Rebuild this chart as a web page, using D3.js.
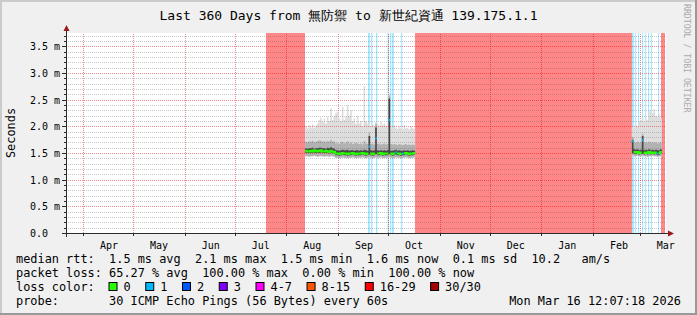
<!DOCTYPE html>
<html>
<head>
<meta charset="utf-8">
<script src="https://cdn.jsdelivr.net/npm/d3@7"></script>
<style>
body { margin: 0; background: #fff; }
svg text { font-family: "DejaVu Sans Mono", monospace; white-space: pre; }
</style>
</head>
<body>
<svg id="chart" width="697" height="315"></svg>
<script>
const endTime = new Date(2026, 2, 16, 12, 7, 18);
const startTime = d3.timeDay.offset(endTime, -360);

const title = "Last 360 Days from 無防禦 to 新世紀資通 139.175.1.1";
const yTicks = [0, 0.5, 1, 1.5, 2, 2.5, 3, 3.5];
const yTickLabels = ["0.0", "0.5 m", "1.0 m", "1.5 m", "2.0 m", "2.5 m", "3.0 m", "3.5 m"];
const monthLabels = ["Apr", "May", "Jun", "Jul", "Aug", "Sep", "Oct", "Nov", "Dec", "Jan", "Feb", "Mar"];

// periods with 100% loss (no answer at all)
const lossSpans = [
  ["2025-07-19T12:00", "2025-08-11T22:00"],
  ["2025-10-16T22:00", "2026-02-24T02:00"],
  ["2026-03-13T12:00", "2026-03-15T22:00"]
];
// short gaps in the data, start and length in days
const gapStarts = ["2025-09-18T17:00", "2025-09-20T12:00", "2025-09-23T12:00", "2025-09-30T10:00",
  "2025-10-01T22:00", "2025-10-03T02:00", "2025-10-08T12:00",
  "2026-02-24T02:00", "2026-02-25T22:00", "2026-02-27T17:00", "2026-03-02T02:00",
  "2026-03-03T22:00", "2026-03-05T17:00", "2026-03-07T12:00", "2026-03-11T17:00"];
const gapDays = [1.2, 0.9, 0.9, 0.9, 0.8, 1.2, 0.8, 1.2, 0.7, 0.7, 0.7, 0.7, 0.7, 0.7, 0.7];

// first block of pings, one value a day from Aug 12 (ms)
const run1Start = "2025-08-12T00:00";
const med1 = [1.54,1.53,1.53,1.54,1.53,1.55,1.54,1.53,1.54,1.55,1.53,1.53,1.54,1.53,1.52,1.54,1.53,1.52,
  1.49,1.49,1.48,1.49,1.5,1.49,1.49,1.48,1.49,1.49,1.5,1.49,1.48,1.49,1.49,1.49,1.5,1.49,1.48,1.49,
  1.62,1.49,1.48,1.49,1.77,1.49,1.49,1.5,1.48,1.49,1.49,1.49,2.12,1.49,1.48,1.49,1.51,1.49,1.49,1.48,
  1.49,1.49,1.5,1.49,1.48,1.49,1.49,1.5];
const loss1 = [0,0,0,0,0,0,0,0,0,0,0,0,0,0,0,0,0,0,0,0,0,0,0,0,0,0,0,0,0,0,0,0,0,0,0,0,0,0,
  1,0,0,0,1,0,0,0,0,0,0,0,1,0,0,0,1,0,0,0,1,0,0,0,0,0,0,0];
const lo1 = [1.44,1.44,1.43,1.44,1.44,1.45,1.44,1.43,1.44,1.44,1.44,1.43,1.44,1.44,1.43,1.44,1.44,1.43,
  1.41,1.41,1.4,1.41,1.42,1.41,1.41,1.4,1.41,1.41,1.42,1.41,1.4,1.41,1.41,1.41,1.42,1.41,1.4,1.41,
  1.42,1.41,1.4,1.41,1.42,1.41,1.41,1.42,1.4,1.41,1.41,1.41,1.42,1.41,1.4,1.41,1.42,1.41,1.41,1.4,
  1.41,1.41,1.42,1.41,1.4,1.41,1.41,1.42];
const q25_1 = [1.5,1.5,1.5,1.5,1.5,1.51,1.5,1.5,1.5,1.51,1.5,1.5,1.5,1.5,1.49,1.5,1.5,1.49,
  1.46,1.46,1.45,1.46,1.47,1.46,1.46,1.45,1.46,1.46,1.47,1.46,1.45,1.46,1.46,1.46,1.47,1.46,1.45,1.46,
  1.47,1.46,1.45,1.46,1.48,1.46,1.46,1.47,1.45,1.46,1.46,1.46,1.48,1.46,1.45,1.46,1.47,1.46,1.46,1.45,
  1.46,1.46,1.47,1.46,1.45,1.46,1.46,1.47];
const q75_1 = [1.59,1.58,1.59,1.59,1.6,1.58,1.59,1.59,1.6,1.6,1.59,1.59,1.58,1.6,1.59,1.61,1.59,1.58,
  1.55,1.55,1.54,1.55,1.56,1.55,1.55,1.56,1.54,1.55,1.55,1.54,1.55,1.55,1.54,1.55,1.54,1.56,1.55,1.54,
  1.82,1.55,1.54,1.55,1.98,1.55,1.54,1.55,1.54,1.55,1.54,1.55,2.52,1.54,1.54,1.55,1.56,1.54,1.55,1.54,
  1.54,1.55,1.54,1.55,1.54,1.54,1.55,1.54];
const q90_1 = [1.71,1.7,1.72,1.71,1.73,1.7,1.71,1.72,1.74,1.73,1.71,1.72,1.7,1.73,1.71,1.75,1.71,1.72,
  1.68,1.69,1.67,1.7,1.71,1.68,1.69,1.72,1.68,1.7,1.67,1.68,1.69,1.68,1.67,1.68,1.66,1.72,1.68,1.67,
  1.88,1.67,1.68,1.66,2.05,1.67,1.68,1.66,1.67,1.68,1.66,1.67,2.58,1.67,1.66,1.67,1.66,1.65,1.67,1.66,
  1.65,1.66,1.67,1.65,1.66,1.65,1.66,1.65];
const hi1 = [2.0,1.96,2.02,1.98,2.04,1.97,2.01,2.05,2.12,2.16,2.08,2.14,2.05,2.18,2.1,
  2.34,2.12,2.2,2.25,2.28,2.15,2.1,2.36,2.12,2.18,2.4,2.2,2.3,2.1,
  2.15,2.05,2.2,2.05,2.1,2.0,2.75,2.1,2.05,2.1,2.0,2.05,2.0,2.08,
  2.05,2.0,2.08,2.02,2.06,2.0,2.04,2.62,
  2.0,1.96,2.02,1.98,1.95,2.0,1.97,1.95,2.02,1.96,1.98,1.94,2.0,1.97,1.95];

// second block of pings, one value a day from Feb 24 (ms)
const run2Start = "2026-02-24T00:00";
const med2 = [1.72,1.52,1.51,1.52,1.5,1.51,1.74,1.5,1.51,1.5,1.52,1.5,1.51,1.5,1.51,1.49,1.5,1.52];
const loss2 = [1,0,0,0,0,0,1,0,0,0,0,0,0,0,0,1,0,0];
const lo2 = [1.46,1.44,1.44,1.45,1.44,1.44,1.45,1.44,1.44,1.43,1.44,1.44,1.45,1.44,1.44,1.43,1.44,1.44];
const q25_2 = [1.5,1.48,1.48,1.49,1.47,1.48,1.49,1.47,1.48,1.47,1.49,1.47,1.48,1.47,1.48,1.46,1.47,1.49];
const q75_2 = [1.75,1.57,1.56,1.57,1.55,1.56,1.82,1.55,1.56,1.55,1.57,1.55,1.56,1.55,1.56,1.55,1.55,1.57];
const q90_2 = [1.8,1.7,1.69,1.71,1.69,1.7,1.86,1.69,1.7,1.69,1.71,1.69,1.7,1.69,1.7,1.68,1.69,1.7];
const hi2 = [2.0,1.98,2.02,2.0,2.1,2.12,2.15,2.1,2.14,2.12,2.28,2.3,2.25,2.32,2.2,2.18,2.22,2.15];

const lossThresholds = [0, 1, 2, 3, 4, 8, 16, 30];
const lossLabels = ["0", "1", "2", "3", "4-7", "8-15", "16-29", "30/30"];
const lossColors = ["#26ff00", "#00b8ff", "#0059ff", "#7e00ff", "#ff00ff", "#ff5500", "#ff0000", "#a10000"];

const statsRtt = "median rtt:  1.5 ms avg  2.1 ms max  1.5 ms min  1.6 ms now  0.1 ms sd  10.2   am/s";
const statsLoss = "packet loss: 65.27 % avg  100.00 % max  0.00 % min  100.00 % now";
const probeText = "probe:       30 ICMP Echo Pings (56 Bytes) every 60s";
const stamp = "Mon Mar 16 12:07:18 2026";

const W = 697, H = 315;
const plot = { left: 66, right: 666, top: 33, bottom: 233 };
const svg = d3.select("#chart");

const x = d3.scaleTime().domain([startTime, endTime]).range([plot.left, plot.right]);
const y = d3.scaleLinear().domain([0, 3.75]).range([plot.bottom, plot.top]);
const yGrid = y.copy().interpolate(d3.interpolateRound);
const xGrid = x.copy().range([plot.left - 0.5, plot.right - 0.5]).interpolate(d3.interpolateRound);

// background and frame
svg.append("rect").attr("width", W).attr("height", H).attr("fill", "#f0f0f0");
svg.append("rect").attr("width", W).attr("height", 2).attr("fill", "#cbcbcb");
svg.append("rect").attr("width", 2).attr("height", H).attr("fill", "#cbcbcb");
svg.append("rect").attr("y", H - 2).attr("width", W).attr("height", 2).attr("fill", "#999");
svg.append("rect").attr("x", W - 2).attr("width", 2).attr("height", H).attr("fill", "#999");
svg.append("rect").attr("x", plot.left).attr("y", plot.top)
  .attr("width", plot.right - plot.left).attr("height", plot.bottom - plot.top).attr("fill", "#fff");

// loss backgrounds
svg.append("g").selectAll("rect").data(lossSpans).join("rect")
  .attr("x", d => x(new Date(d[0]))).attr("width", d => x(new Date(d[1])) - x(new Date(d[0])))
  .attr("y", plot.top).attr("height", plot.bottom - plot.top)
  .attr("fill", "#ff0000").attr("fill-opacity", 0.47);
svg.append("g").selectAll("rect").data(gapStarts).join("rect")
  .attr("x", d => x(new Date(d)))
  .attr("width", (d, i) => x(new Date(+new Date(d) + gapDays[i] * 864e5)) - x(new Date(d)))
  .attr("y", plot.top).attr("height", plot.bottom - plot.top)
  .attr("fill", "#00b8ff").attr("fill-opacity", 0.33);

// vertical grid (under the smoke)
const monthStarts = d3.timeMonth.range(d3.timeMonth.ceil(startTime), endTime);
svg.append("g").attr("transform", `translate(0,${plot.bottom})`)
  .call(d3.axisBottom(xGrid).tickValues(monthStarts).tickSize(-(plot.bottom - plot.top)).tickFormat(""))
  .call(g => g.select(".domain").remove())
  .call(g => g.selectAll("line").attr("stroke", "rgba(220,0,0,0.45)").attr("stroke-dasharray", "1,1"));

// smoke
function buckets(startStr, med, loss, lo, q25, q75, q90, hi) {
  const t0 = new Date(startStr);
  return med.map((m, i) => ({
    t: d3.timeDay.offset(t0, i), end: d3.timeDay.offset(t0, i + 1),
    med: m, loss: loss[i], lo: lo[i], q25: q25[i], q75: q75[i], q90: q90[i], hi: hi[i]
  }));
}
const runs = [
  buckets(run1Start, med1, loss1, lo1, q25_1, q75_1, q90_1, hi1),
  buckets(run2Start, med2, loss2, lo2, q25_2, q75_2, q90_2, hi2)
];
const bands = [
  { lower: "lo", upper: "hi", fill: "#dedede" },
  { lower: "lo", upper: "q90", fill: "#b2b2b2" },
  { lower: "q25", upper: "q75", fill: "#474747" }
];
const smoke = svg.append("g");
runs.forEach(run => {
  const last = run[run.length - 1];
  const pts = run.concat([Object.assign({}, last, { t: last.end })]);
  bands.forEach(b => {
    const area = d3.area().curve(d3.curveStepAfter)
      .x(d => x(d.t)).y0(d => y(d[b.lower])).y1(d => y(d[b.upper]));
    smoke.append("path").attr("d", area(pts)).attr("fill", b.fill);
  });
});

// horizontal grid
const minorTicks = d3.range(1, 38).map(i => i / 10).filter(v => Math.abs(v * 2 - Math.round(v * 2)) > 1e-6);
svg.append("g").attr("transform", `translate(${plot.left},0)`)
  .call(d3.axisLeft(yGrid).tickValues(minorTicks).tickSize(-(plot.right - plot.left)).tickFormat(""))
  .call(g => g.select(".domain").remove())
  .call(g => g.selectAll("line").attr("stroke", "rgba(80,80,80,0.3)").attr("stroke-dasharray", "1,1"));
svg.append("g").attr("transform", `translate(${plot.left},0)`)
  .call(d3.axisLeft(yGrid).tickValues(yTicks.slice(1)).tickSize(-(plot.right - plot.left)).tickFormat(""))
  .call(g => g.select(".domain").remove())
  .call(g => g.selectAll("line").attr("stroke", "rgba(220,0,0,0.45)").attr("stroke-dasharray", "1,1"));

// median line, coloured by loss
const lossClass = n => d3.bisectRight(lossThresholds, n) - 1;
const medLines = svg.append("g");
runs.forEach(run => {
  const pts = run.flatMap(d => [{ t: d.t, v: d.med, c: lossClass(d.loss) }, { t: d.end, v: d.med, c: lossClass(d.loss) }]);
  lossColors.forEach((col, c) => {
    if (!pts.some(p => p.c === c)) return;
    const line = d3.line().defined(p => p.c === c).x(p => x(p.t)).y(p => y(p.v));
    medLines.append("path").attr("d", line(pts)).attr("fill", "none")
      .attr("stroke", col).attr("stroke-width", 2);
  });
});

// axes
const axisColor = "#2c2c2c", arrowColor = "#9a1a1a";
svg.append("g").attr("transform", `translate(${plot.left},0)`)
  .call(d3.axisLeft(yGrid).tickValues(yTicks).tickSize(4).tickFormat(""))
  .call(g => g.select(".domain").remove())
  .call(g => g.selectAll("line").attr("stroke", axisColor));
svg.append("g").attr("transform", `translate(${plot.left},0)`)
  .call(d3.axisLeft(yGrid).tickValues(minorTicks).tickSize(2).tickFormat(""))
  .call(g => g.select(".domain").remove())
  .call(g => g.selectAll("line").attr("stroke", axisColor));
svg.append("g").attr("transform", `translate(0,${plot.bottom})`)
  .call(d3.axisBottom(xGrid).tickValues(monthStarts).tickSize(3).tickFormat(""))
  .call(g => g.select(".domain").remove())
  .call(g => g.selectAll("line").attr("stroke", axisColor));
svg.append("line").attr("x1", plot.left - 4).attr("x2", plot.right + 4)
  .attr("y1", plot.bottom + 0.5).attr("y2", plot.bottom + 0.5).attr("stroke", axisColor);
svg.append("line").attr("x1", plot.left + 0.5).attr("x2", plot.left + 0.5)
  .attr("y1", plot.bottom + 4).attr("y2", plot.top - 3).attr("stroke", axisColor);
svg.append("path").attr("fill", arrowColor)
  .attr("d", `M${plot.right + 8},${plot.bottom + 0.5} L${plot.right + 2},${plot.bottom - 2.5} L${plot.right + 2},${plot.bottom + 3.5}Z`);
svg.append("path").attr("fill", arrowColor)
  .attr("d", `M${plot.left + 0.5},${plot.top - 8} L${plot.left - 2.5},${plot.top - 2} L${plot.left + 3.5},${plot.top - 2}Z`);

// tick labels
svg.append("g").selectAll("text").data(yTicks).join("text")
  .attr("x", 30).attr("y", d => yGrid(d) + 3.5)
  .attr("font-size", 10).attr("fill", "#000").text((d, i) => yTickLabels[i]);
const monthMids = monthStarts.concat([d3.timeMonth.floor(startTime)])
  .map(d => d3.timeDay.offset(d, 15))
  .filter(d => x(d) >= plot.left && x(d) <= plot.right)
  .sort((a, b) => a - b);
svg.append("g").attr("transform", `translate(0,${plot.bottom})`)
  .call(d3.axisBottom(x).tickValues(monthMids).tickSize(0).tickPadding(9)
    .tickFormat((d, i) => monthLabels[i]))
  .call(g => g.select(".domain").remove())
  .call(g => g.selectAll("text").attr("font-size", 10).attr("fill", "#000")
    .attr("font-family", "DejaVu Sans Mono"));

// titles
svg.append("text").attr("x", 348.5).attr("y", 20).attr("text-anchor", "middle")
  .attr("font-size", 13).attr("fill", "#000").text(title);
svg.append("text").attr("transform", `translate(15,${(plot.top + plot.bottom) / 2}) rotate(-90)`)
  .attr("text-anchor", "middle").attr("font-size", 11.9).attr("fill", "#000").text("Seconds");
svg.append("text").attr("transform", "translate(684,4) rotate(90)")
  .attr("font-size", 8.2).attr("fill", "#aaa").text("RRDTOOL / TOBI OETIKER");

// legend
const legend = svg.append("g").attr("font-size", 11.9).attr("fill", "#000");
legend.append("text").attr("x", 16).attr("y", 263).text(statsRtt);
legend.append("text").attr("x", 16).attr("y", 277).text(statsLoss);
legend.append("text").attr("x", 16).attr("y", 291).text("loss color:");
legend.append("text").attr("x", 16).attr("y", 305).text(probeText);
legend.append("text").attr("x", 681).attr("y", 305).attr("text-anchor", "end").text(stamp);
const charW = 7.15;
let lx = 108.5;
lossLabels.forEach((lab, i) => {
  legend.append("rect").attr("x", lx + 0.5).attr("y", 282.5).attr("width", 8).attr("height", 8)
    .attr("fill", lossColors[i]).attr("stroke", "#000");
  legend.append("text").attr("x", lx + 15).attr("y", 291).text(lab);
  lx += 15 + lab.length * charW + 14.6;
});
</script>
</body>
</html>
